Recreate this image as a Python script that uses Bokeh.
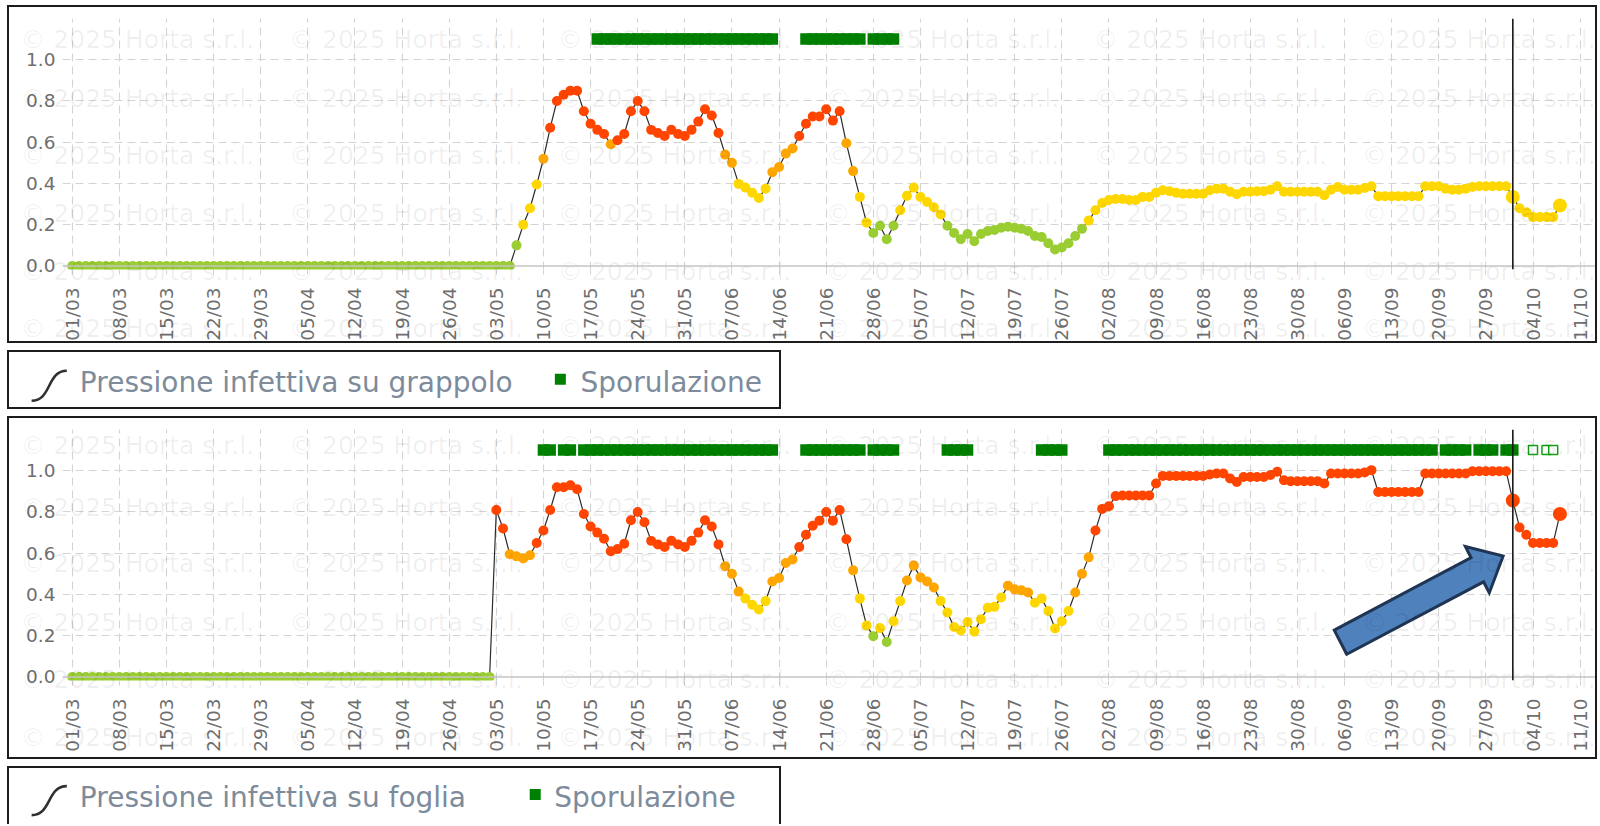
import numpy as np
import pandas as pd
from bokeh.plotting import figure
from bokeh.layouts import column
from bokeh.models import (Range1d, FixedTicker, DatetimeTickFormatter, NumeralTickFormatter,
                          Span, ColumnDataSource, LinearColorMapper)
from bokeh.embed import file_html
from bokeh.resources import INLINE
from bokeh.core.properties import value

# ---------------------------------------------------------------- data
SEASON_START = "2025-03-01"
YEAR = 2025
TICK_LABELS = ["01/03", "08/03", "15/03", "22/03", "29/03", "05/04", "12/04", "19/04", "26/04",
               "03/05", "10/05", "17/05", "24/05", "31/05", "07/06", "14/06", "21/06", "28/06",
               "05/07", "12/07", "19/07", "26/07", "02/08", "09/08", "16/08", "23/08", "30/08",
               "06/09", "13/09", "20/09", "27/09", "04/10", "11/10"]
Y_TICKS = [0.0, 0.2, 0.4, 0.6, 0.8, 1.0]

# daily infection pressure on bunches, from 01/03
GRAPPOLO = [
    0, 0, 0, 0, 0, 0, 0, 0, 0, 0, 0, 0, 0, 0, 0, 0, 0, 0, 0, 0, 0, 0,
    0, 0, 0, 0, 0, 0, 0, 0, 0, 0, 0, 0, 0, 0, 0, 0, 0, 0, 0, 0, 0, 0,
    0, 0, 0, 0, 0, 0, 0, 0, 0, 0, 0, 0, 0, 0, 0, 0, 0, 0, 0, 0, 0, 0,
    0.10, 0.20, 0.28, 0.395, 0.52, 0.67, 0.80, 0.83, 0.85, 0.85,
    0.75, 0.69, 0.66, 0.64, 0.59, 0.61, 0.64, 0.75, 0.80, 0.75,
    0.66, 0.645, 0.63, 0.66, 0.64, 0.63, 0.66, 0.70, 0.76, 0.73,
    0.645, 0.54, 0.50, 0.398, 0.38, 0.355, 0.33, 0.375, 0.455, 0.48,
    0.545, 0.57, 0.63, 0.69, 0.725, 0.725, 0.76, 0.705, 0.75, 0.595,
    0.46, 0.335, 0.21, 0.16, 0.195, 0.13, 0.195, 0.27, 0.34, 0.38,
    0.335, 0.31, 0.285, 0.25, 0.195, 0.16, 0.13, 0.155, 0.12, 0.155,
    0.17, 0.175, 0.185, 0.19, 0.185, 0.18, 0.17, 0.145, 0.14, 0.11,
    0.08, 0.09, 0.11, 0.145, 0.18, 0.22, 0.27, 0.305, 0.32, 0.325,
    0.325, 0.32, 0.32, 0.335, 0.335, 0.355, 0.367, 0.362, 0.355, 0.35,
    0.35, 0.35, 0.35, 0.367, 0.375, 0.375, 0.36, 0.348, 0.36, 0.36,
    0.362, 0.362, 0.37, 0.387, 0.36, 0.36, 0.36, 0.36, 0.36, 0.36,
    0.343, 0.37, 0.383, 0.37, 0.37, 0.37, 0.378, 0.387, 0.338, 0.338,
    0.338, 0.338, 0.338, 0.338, 0.338, 0.387, 0.387, 0.387, 0.375, 0.37,
    0.37, 0.375, 0.383, 0.387, 0.387, 0.387, 0.387, 0.387, 0.335, 0.28,
    0.26, 0.237, 0.237, 0.237, 0.237, 0.293,
]

# daily infection pressure on leaves, from 01/03
FOGLIA = [
    0, 0, 0, 0, 0, 0, 0, 0, 0, 0, 0, 0, 0, 0, 0, 0, 0, 0, 0, 0, 0,
    0, 0, 0, 0, 0, 0, 0, 0, 0, 0, 0, 0, 0, 0, 0, 0, 0, 0, 0, 0, 0,
    0, 0, 0, 0, 0, 0, 0, 0, 0, 0, 0, 0, 0, 0, 0, 0, 0, 0, 0, 0, 0,
    0.81, 0.72, 0.595, 0.585, 0.575, 0.59, 0.65, 0.71, 0.81, 0.92,
    0.92, 0.93, 0.91, 0.79, 0.73, 0.70, 0.67, 0.61, 0.62, 0.646,
    0.76, 0.80, 0.75, 0.66, 0.643, 0.63, 0.66, 0.643, 0.63, 0.66,
    0.70, 0.76, 0.73, 0.643, 0.537, 0.50, 0.414, 0.38, 0.35, 0.327,
    0.368, 0.463, 0.48, 0.553, 0.57, 0.63, 0.69, 0.733, 0.758, 0.80,
    0.758, 0.81, 0.668, 0.517, 0.38, 0.25, 0.198, 0.237, 0.17, 0.27,
    0.368, 0.468, 0.54, 0.483, 0.463, 0.434, 0.368, 0.313, 0.242, 0.226,
    0.267, 0.22, 0.28, 0.336, 0.34, 0.386, 0.443, 0.425, 0.42, 0.41,
    0.36, 0.38, 0.32, 0.235, 0.27, 0.32, 0.41, 0.50, 0.58, 0.71,
    0.815, 0.828, 0.877, 0.88, 0.88, 0.88, 0.88, 0.88, 0.938, 0.975,
    0.975, 0.975, 0.975, 0.975, 0.975, 0.975, 0.982, 0.987, 0.987, 0.962,
    0.946, 0.97, 0.97, 0.97, 0.97, 0.979, 0.995, 0.954, 0.949, 0.949,
    0.949, 0.949, 0.949, 0.938, 0.987, 0.987, 0.987, 0.987, 0.987, 0.992,
    1.003, 0.897, 0.897, 0.897, 0.897, 0.897, 0.897, 0.897, 0.987, 0.987,
    0.987, 0.987, 0.987, 0.987, 0.987, 0.998, 0.998, 0.998, 0.998, 0.998,
    0.998, 0.856, 0.725, 0.69, 0.65, 0.65, 0.65, 0.65, 0.79,
]

# sporulation days (runs of consecutive days, first/last day)
SPOR_GRAPPOLO = [("18/05", "13/06"), ("18/06", "26/06"), ("28/06", "01/07")]
SPOR_FOGLIA = [("10/05", "11/05"), ("13/05", "14/05"), ("16/05", "13/06"), ("18/06", "26/06"),
               ("28/06", "01/07"), ("09/07", "12/07"), ("23/07", "26/07"), ("02/08", "19/09"),
               ("21/09", "24/09"), ("26/09", "28/09"), ("30/09", "01/10")]
SPOR_FOGLIA_FORECAST = ["04/10", "06/10", "07/10"]
TODAY = "01/10"
HIGHLIGHT = ["01/10", "08/10"]

LEGEND_GRAPPOLO = "Pressione infettiva su grappolo"
LEGEND_FOGLIA = "Pressione infettiva su foglia"
LEGEND_SPOR = "Sporulazione"
WATERMARK = "\u00a9 2025 Horta s.r.l."

# ---------------------------------------------------------------- helpers
def dm(s):
    d, m = s.split("/")
    return pd.Timestamp(year=YEAR, month=int(m), day=int(d))

def ms(ts):
    return ts.value / 1e6

START = pd.Timestamp(SEASON_START)
DAY_MS = 86400000.0
X0_DAYS, X1_DAYS = -1.445, 226.58
X_START = ms(START) + X0_DAYS * DAY_MS
X_END = ms(START) + X1_DAYS * DAY_MS
Y_START, Y_END = -0.017, 1.2

BW = 2                      # box border width
INNER_W = 1586
MB_LEFT, MB_RIGHT, MB_TOP = 53, 2, 11
FRAME_H = 247
FRAME_W = INNER_W - MB_LEFT - MB_RIGHT
PXD = FRAME_W / (X1_DAYS - X0_DAYS)
PXV = FRAME_H / (Y_END - Y_START)

PALETTE = ["#9ACD32", "#FFD700", "#FFA500", "#FF4500"]
cmap = LinearColorMapper(palette=PALETTE, low=0.0, high=0.8, high_color="#FF4500", low_color="#9ACD32")

TICK_FONT = "DejaVu Sans"
BORDER = "%dpx solid #1c1c1c" % BW
LABEL_SIZE = "18.5px"


def panel(values, spor_runs, forecast, inner_h, wm_rows, arrow=None):
    p = figure(width=INNER_W + 2 * BW, height=inner_h + 2 * BW, x_axis_type="datetime",
               output_backend="svg", toolbar_location=None, frame_align=False,
               x_range=Range1d(X_START, X_END), y_range=Range1d(Y_START, Y_END),
               min_border_left=MB_LEFT, min_border_right=MB_RIGHT, min_border_top=MB_TOP,
               min_border_bottom=inner_h - MB_TOP - FRAME_H,
               background_fill_color="white", border_fill_color="white",
               outline_line_color=None, styles={"border": BORDER})

    # axes
    tick_ms = [ms(dm(t)) for t in TICK_LABELS]
    fmt = "%d/%m"
    p.xaxis.ticker = FixedTicker(ticks=tick_ms)
    p.xaxis.formatter = DatetimeTickFormatter(days=fmt, months=fmt, years=fmt, hours=fmt,
                                              hourmin=fmt, minutes=fmt, minsec=fmt,
                                              seconds=fmt, milliseconds=fmt, microseconds=fmt)
    p.xaxis.major_label_orientation = np.pi / 2
    p.xaxis.axis_line_color = None
    p.xaxis.major_tick_line_color = "#d2d2d2"
    p.xaxis.major_tick_out = 5
    p.xaxis.major_tick_in = 0
    p.xaxis.minor_tick_line_color = None
    p.xaxis.major_label_standoff = 13
    p.xaxis.major_label_text_font = TICK_FONT
    p.xaxis.major_label_text_font_size = LABEL_SIZE
    p.xaxis.major_label_text_color = "#6e6e6e"

    p.yaxis.ticker = FixedTicker(ticks=Y_TICKS)
    p.yaxis.formatter = NumeralTickFormatter(format="0.0")
    p.yaxis.axis_line_color = None
    p.yaxis.major_tick_line_color = None
    p.yaxis.minor_tick_line_color = None
    p.yaxis.major_tick_out = 0
    p.yaxis.major_label_standoff = 7
    p.yaxis.major_label_text_font = TICK_FONT
    p.yaxis.major_label_text_font_size = LABEL_SIZE
    p.yaxis.major_label_text_color = "#6e6e6e"

    p.xgrid.ticker = FixedTicker(ticks=tick_ms)
    p.ygrid.ticker = FixedTicker(ticks=[0.2, 0.4, 0.6, 0.8, 1.0, 1.2])
    for g in (p.xgrid, p.ygrid):
        g.grid_line_color = "#d4d4d4"
        g.grid_line_dash = "8 5"
        g.grid_line_width = 1.1
    p.add_layout(Span(location=0, dimension="width", line_color="#c4c4c4", line_width=1.5))

    # series
    dates = pd.date_range(START, periods=len(values), freq="D")
    src = ColumnDataSource(dict(x=dates, y=values))
    p.line("x", "y", source=src, line_color="#2b2b2b", line_width=1.2)
    p.scatter("x", "y", source=src, size=10, line_color=None,
              fill_color={"field": "y", "transform": cmap})
    hl = [dm(h) for h in HIGHLIGHT]
    hv = [values[(h - START).days] for h in hl]
    p.scatter(x=hl, y=hv, size=14, line_color=None,
              fill_color={"field": "y", "transform": cmap})

    # sporulation
    sd = []
    for a, b in spor_runs:
        sd.extend(pd.date_range(dm(a), dm(b), freq="D"))
    p.scatter(x=sd, y=[1.1] * len(sd), marker="square", size=11.5,
              fill_color="#008000", line_color=None)
    if forecast:
        fd = [dm(f) for f in forecast]
        p.scatter(x=fd, y=[1.1] * len(fd), marker="square", size=9,
                  fill_color="white", line_color="#12a012", line_width=1.5)

    p.add_layout(Span(location=ms(dm(TODAY)), dimension="height",
                      line_color="#1a1a1a", line_width=1.6))

    if arrow is not None:
        (td, tv), (hd, hv2) = arrow
        tx, ty = (td - X0_DAYS) * PXD, (tv - Y_START) * PXV
        hx, hy = (hd - X0_DAYS) * PXD, (hv2 - Y_START) * PXV
        u = np.array([hx - tx, hy - ty])
        u = u / np.hypot(*u)
        n = np.array([-u[1], u[0]])
        T = np.array([tx, ty]); H = np.array([hx, hy])
        B = H - 29 * u
        pts = [T + 13.4 * n, B + 13.4 * n, B + 25.7 * n, H, B - 25.7 * n, B - 13.4 * n, T - 13.4 * n]
        xs = [X_START + q[0] / PXD * DAY_MS for q in pts]
        ys = [Y_START + q[1] / PXV for q in pts]
        p.patch(xs, ys, fill_color="#4F81BD", line_color="#1F3553", line_width=3,
                line_join="miter")

    # watermark over the whole box (annotation level, so not clipped to the frame)
    wm_cols = [11, 279, 547, 814, 1081, 1349]
    wx, wy = [], []
    for r in wm_rows:
        for c in wm_cols:
            wx.append(X_START + (c - MB_LEFT) / PXD * DAY_MS)
            wy.append(Y_END - (r - MB_TOP) / PXV)
    p.text(x=wx, y=wy, text=[WATERMARK] * len(wx), text_font=value(TICK_FONT),
           text_font_size="25px", text_color="#000000", text_alpha=0.065,
           text_baseline="middle", text_align="left", level="annotation")
    return p


def legend_fig(label, sq_cx, spor_x, inner_h, styles, extra_h=2 * BW):
    W = 770
    lf = figure(width=W + 2 * BW, height=inner_h + extra_h,
                x_range=Range1d(0, W), y_range=Range1d(inner_h, 0),
                x_axis_type=None, y_axis_type=None, output_backend="svg", toolbar_location=None,
                frame_align=False, min_border=0, min_border_left=0, min_border_right=0,
                min_border_top=0, min_border_bottom=0,
                outline_line_color=None, background_fill_color="white",
                border_fill_color="white", styles=styles)
    lf.grid.visible = False
    lf.bezier(x0=[22], y0=[45], x1=[57], y1=[17], cx0=[42], cy0=[45], cx1=[37], cy1=[17],
              line_color="#303030", line_width=2.6)
    lf.text(x=[70], y=[28], text=[label], text_font=value(TICK_FONT), text_font_size="28px",
            text_color="#7d8b9b", text_baseline="middle")
    lf.scatter(x=[sq_cx], y=[25], marker="square", size=11, fill_color="#008000", line_color=None)
    lf.text(x=[spor_x], y=[28], text=[LEGEND_SPOR], text_font=value(TICK_FONT),
            text_font_size="28px", text_color="#7d8b9b", text_baseline="middle")
    return lf


p1 = panel(GRAPPOLO, SPOR_GRAPPOLO, None, 334, [32, 90, 146, 203, 260, 316])
l1 = legend_fig(LEGEND_GRAPPOLO, 548, 568, 55, {"border": BORDER})
p2 = panel(FOGLIA, SPOR_FOGLIA, SPOR_FOGLIA_FORECAST, 339, [27, 88, 143, 201, 257, 314],
           arrow=((188.4, 0.169), (212.56, 0.586)))
l2 = legend_fig(LEGEND_FOGLIA, 523, 542, 56,
                {"border-top": BORDER, "border-left": BORDER, "border-right": BORDER},
                extra_h=BW)

layout = column(p1, l1, p2, l2, spacing=7,
                styles={"margin-top": "5px", "margin-left": "7px"})

open("out.html", "w").write(file_html(layout, INLINE))
